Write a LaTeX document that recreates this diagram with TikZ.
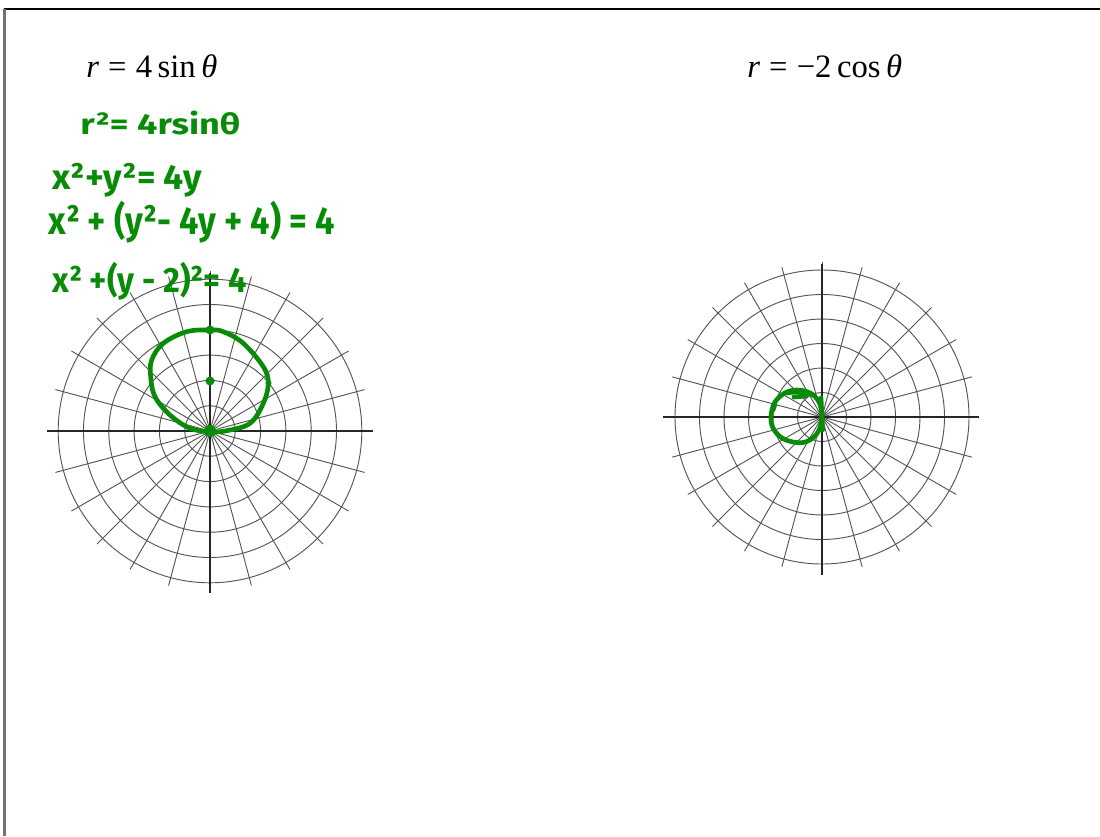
\documentclass[tikz,border=0pt]{standalone}
\usepackage{fontspec}
\usepackage{graphicx}
\setmainfont{Liberation Serif}
\newfontfamily\handfont{Fira Sans}
\definecolor{handgreen}{RGB}{8,140,8}
\definecolor{gridgray}{RGB}{85,85,85}
\begin{document}
\begin{tikzpicture}[x=0.75pt,y=-0.75pt,
  gridline/.style={draw=gridgray,line width=0.7pt},
  axisline/.style={draw=black!85,line width=2.2pt},
  ink/.style={draw=handgreen,line width=3.5pt,line cap=round,line join=round},
  inkdot/.style={fill=handgreen},
  title/.style={anchor=base west,inner sep=0pt,font=\fontsize{24.5}{28}\selectfont},
  handtext/.style={anchor=north west,inner sep=0pt,text=handgreen,font=\handfont\bfseries}]
\useasboundingbox (0,0) rectangle (1100,836);
% frame
\draw[black,line width=1.2pt] (4,9) -- (1100,9);
\draw[black!55,line width=1.6pt] (4.5,9) -- (4.5,836);

% titles
\node[title] (t1) at (86,77) {\textit{r}\hspace{0.28em}=\hspace{0.28em}4\hspace{0.17em}sin\hspace{0.17em}\textit{θ}};
\node[title] (t2) at (747,77) {\textit{r}\hspace{0.28em}=\hspace{0.28em}−2\hspace{0.17em}cos\hspace{0.17em}\textit{θ}};

% left polar grid
\begin{scope}[shift={(210,431)}]
  \foreach \k in {1,...,6} \draw[gridline] (0,0) circle[radius=\k*25.3];
  \foreach \a in {15,30,...,345} \draw[gridline] (0,0) -- (\a:160);
  \draw[axisline] (-163,0) -- (163,0);
  \draw[axisline] (0,-158) -- (0,162);
\end{scope}

% right polar grid
\begin{scope}[shift={(822,417)}]
  \foreach \k in {1,...,6} \draw[gridline] (0,0) circle[radius=\k*24.5];
  \foreach \a in {15,30,...,345} \draw[gridline] (0,0) -- (\a:155);
  \draw[axisline] (-159,0) -- (157,0);
  \draw[axisline] (0,-153) -- (0,158);
\end{scope}

% handwritten work
\node[handtext] (h1) at (80,111) {\resizebox*{120pt}{18pt}{r²= 4rsinθ}};
\node[handtext] (h2) at (52,163) {\resizebox*{112.5pt}{25.5pt}{x²+y²= 4y}};
\node[handtext] (h3) at (48,201) {\resizebox*{215pt}{31.5pt}{x² + (y²- 4y + 4) = 4}};
\node[handtext] (h4) at (52,262) {\resizebox*{146pt}{28.5pt}{x² +(y - 2)²= 4}};

% left green curve
\draw[ink] plot[smooth cycle,tension=0.6] coordinates {
  (210,431.7) (226.7,430.7) (250,423.3) (263.3,403.3) (268.3,383.3)
  (263.3,366.7) (243.3,343.3) (223.3,331.7) (210,330) (186.7,331.7)
  (163.3,343.3) (151.7,360) (150.7,376.7) (155,396.7) (170,415) (190,428.3)};
\fill[inkdot] (210,330) circle[radius=4.5];
\fill[inkdot] (210,381) circle[radius=4.5];
\fill[inkdot] (210,431) circle[radius=6];
\fill[inkdot] (268.5,383) circle[radius=3];

% right green curve
\draw[ink] plot[smooth cycle,tension=0.6] coordinates {
  (822,417) (818,432) (808,441) (796,442.5) (782,438) (773,428)
  (771,416) (775,402) (785,393) (797,390) (810,393) (819,402)};
\draw[ink] (785,393) -- (800,391.5) -- (812,394);
\draw[ink] (794,397) -- (806,396);
\draw[ink] (821,398) -- (822.5,430);
\draw[ink] (775,404) -- (773,410);
\end{tikzpicture}
\end{document}
